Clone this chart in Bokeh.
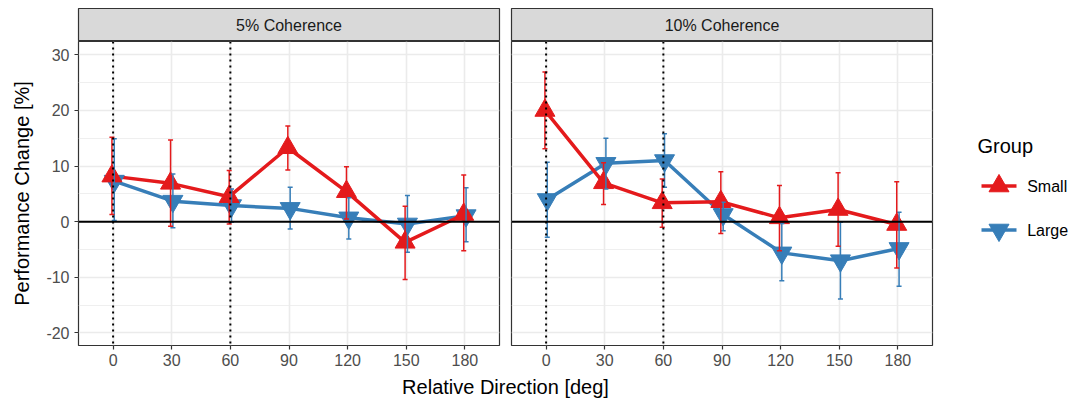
from bokeh.plotting import figure
from bokeh.layouts import row, column
from bokeh.models import Range1d, FixedTicker, Span, Whisker, TeeHead, ColumnDataSource
from bokeh.transform import dodge
from bokeh.core.properties import value
from bokeh.embed import file_html
from bokeh.resources import INLINE

# ---------------- data ----------------
directions = [0, 30, 60, 90, 120, 150, 180]
panels = ["5% Coherence", "10% Coherence"]
groups = ["Small", "Large"]
colors = ["#E41A1C", "#377EB8"]
markers = ["triangle", "inverted_triangle"]
dodges = [-0.6, 0.6]

# 5% coherence
c5_small_mean = [8.2, 6.9, 4.5, 13.3, 5.4, -3.7, 1.3]
c5_small_lo = [1.3, -0.8, -0.4, 9.3, 0.5, -10.4, -5.2]
c5_small_hi = [15.2, 14.7, 9.2, 17.2, 9.9, 2.8, 8.4]
c5_large_mean = [7.3, 3.7, 2.9, 2.4, 0.7, -0.4, 1.1]
c5_large_lo = [0.2, -1.1, -0.1, -1.3, -3.1, -5.5, -3.6]
c5_large_hi = [14.9, 8.6, 5.9, 6.2, 4.3, 4.7, 6.1]

# 10% coherence
c10_small_mean = [20.0, 7.0, 3.4, 3.6, 0.7, 2.2, -0.5]
c10_small_lo = [13.1, 3.1, -1.0, -2.1, -5.2, -4.4, -8.3]
c10_small_hi = [26.9, 10.6, 7.7, 9.0, 6.5, 8.8, 7.2]
c10_large_mean = [4.0, 10.5, 11.0, 1.3, -5.6, -7.0, -4.8]
c10_large_lo = [-2.8, 5.9, 6.2, -1.6, -10.6, -13.9, -11.6]
c10_large_hi = [10.7, 15.0, 15.8, 3.5, -0.3, -0.1, 1.7]

ref_directions = [0, 60]
y_ticks = [-20, -10, 0, 10, 20, 30]
y_minor = [-15, -5, 5, 15, 25]

x_title = "Relative Direction [deg]"
y_title = "Performance Change [%]"
legend_title = "Group"

panel_data = [
    {"Small": (c5_small_mean, c5_small_lo, c5_small_hi),
     "Large": (c5_large_mean, c5_large_lo, c5_large_hi)},
    {"Small": (c10_small_mean, c10_small_lo, c10_small_hi),
     "Large": (c10_large_mean, c10_large_lo, c10_large_hi)},
]

# ---------------- style ----------------
FONT = "Liberation Sans"
BORDER = "#333333"
GRID = "#EBEBEB"
TICKTXT = "#4D4D4D"
FRAME_W = 421
STRIP_H = 41      # includes 8px top border
PANEL_H = 330     # 304 frame + 26 axis


def make_panel(i):
    left = 78 if i == 0 else 7
    right = 5 if i == 0 else 2
    width = left + FRAME_W + right

    s = figure(width=width, height=STRIP_H, x_range=(0, 1), y_range=(0, 1),
               x_axis_type=None, y_axis_type=None,
               min_border_left=left, min_border_right=right,
               min_border_top=8, min_border_bottom=0,
               toolbar_location=None, output_backend="svg")
    s.background_fill_color = "#D9D9D9"
    s.outline_line_color = BORDER
    s.outline_line_width = 1.2
    s.text(x=[0.5], y=[0.5], text=[panels[i]], text_align="center",
           text_baseline="middle", text_font=value(FONT),
           text_font_size="16px", text_color="#1A1A1A")

    p = figure(width=width, height=PANEL_H,
               x_range=Range1d(-17.7, 197.7), y_range=Range1d(-22.25, 32.4),
               y_axis_location="left" if i == 0 else None,
               min_border_left=left, min_border_right=right,
               min_border_top=0, min_border_bottom=26,
               toolbar_location=None, output_backend="svg")
    p.outline_line_color = BORDER
    p.outline_line_width = 1.2
    p.background_fill_color = "white"

    p.xgrid.ticker = FixedTicker(ticks=directions)
    p.ygrid.ticker = FixedTicker(ticks=y_ticks, minor_ticks=y_minor)
    for g in (p.xgrid[0], p.ygrid[0]):
        g.grid_line_color = GRID
        g.grid_line_width = 1.6
    p.ygrid.minor_grid_line_color = GRID
    p.ygrid.minor_grid_line_width = 0.8

    axes = [p.xaxis[0]]
    p.xaxis.ticker = FixedTicker(ticks=directions)
    if i == 0:
        p.yaxis.ticker = FixedTicker(ticks=y_ticks)
        p.yaxis.major_label_overrides = {t: str(t) for t in y_ticks}
        p.yaxis.axis_label = y_title
        p.yaxis.axis_label_standoff = 10
        p.yaxis.major_label_standoff = 5
        axes.append(p.yaxis[0])
    p.xaxis.major_label_standoff = 4
    for ax in axes:
        ax.axis_line_color = None
        ax.major_tick_line_color = BORDER
        ax.major_tick_line_width = 1.2
        ax.major_tick_out = 4
        ax.major_tick_in = 0
        ax.minor_tick_line_color = None
        ax.major_label_text_font = FONT
        ax.major_label_text_font_size = "16px"
        ax.major_label_text_color = TICKTXT
        ax.axis_label_text_font = FONT
        ax.axis_label_text_font_size = "20px"
        ax.axis_label_text_font_style = "normal"
        ax.axis_label_text_color = "black"

    order = [1, 0]  # draw Large first, Small on top
    sources = {}
    for gi in order:
        name = groups[gi]
        mean, lo, hi = panel_data[i][name]
        src = ColumnDataSource(dict(x=directions, mean=mean, lo=lo, hi=hi))
        sources[gi] = src
        col = colors[gi]
        w = Whisker(source=src, base=dodge("x", dodges[gi]), upper="hi", lower="lo",
                    dimension="height", line_color=col, line_width=1.5,
                    upper_head=TeeHead(size=5, line_color=col, line_width=1.5),
                    lower_head=TeeHead(size=5, line_color=col, line_width=1.5),
                    level="glyph")
        p.add_layout(w)
    for gi in order:
        p.line(x=dodge("x", dodges[gi]), y="mean", source=sources[gi],
               line_color=colors[gi], line_width=3.5)
    for gi in order:
        p.scatter(x=dodge("x", dodges[gi]), y="mean", source=sources[gi],
                  marker=markers[gi], size=20, fill_color=colors[gi],
                  line_color=colors[gi], line_width=1)

    p.add_layout(Span(location=0, dimension="width", line_color="black", line_width=1.8))
    for d in ref_directions:
        p.add_layout(Span(location=d, dimension="height", line_color="black",
                          line_width=2, line_dash="2 4"))
    return column(s, p)


col1 = make_panel(0)
col2 = make_panel(1)

# ---------------- legend ----------------
LEG_W = 140
LEG_H = STRIP_H + PANEL_H
leg = figure(width=LEG_W, height=LEG_H, x_range=Range1d(0, LEG_W), y_range=Range1d(LEG_H, 0),
             x_axis_type=None, y_axis_type=None, min_border=0,
             toolbar_location=None, output_backend="svg")
leg.outline_line_color = None
leg.text(x=[43], y=[145], text=[legend_title], text_align="left", text_baseline="middle",
         text_font=value(FONT), text_font_size="20px", text_color="black")
key_y = [185.5, 229.5]
for gi, name in enumerate(groups):
    leg.segment(x0=[47], x1=[82], y0=[key_y[gi]], y1=[key_y[gi]],
                line_color=colors[gi], line_width=3.5)
    leg.scatter(x=[64.5], y=[key_y[gi]], marker=markers[gi], size=20,
                fill_color=colors[gi], line_color=colors[gi], line_width=1)
    leg.text(x=[92.7], y=[key_y[gi]], text=[name], text_align="left",
             text_baseline="middle", text_font=value(FONT),
             text_font_size="16px", text_color="black")

# ---------------- shared x title ----------------
XT_H = 399 - LEG_H
xt = figure(width=1010, height=XT_H, x_range=(0, 1), y_range=Range1d(XT_H, 0),
            x_axis_type=None, y_axis_type=None, min_border=0,
            toolbar_location=None, output_backend="svg")
xt.outline_line_color = None
xt.text(x=[0.5], y=[XT_H - 13], text=[x_title], text_align="center",
        text_baseline="alphabetic", text_font=value(FONT),
        text_font_size="20px", text_color="black")

layout = column(row(col1, col2, leg), xt)

open("out.html", "w").write(file_html(layout, INLINE))
